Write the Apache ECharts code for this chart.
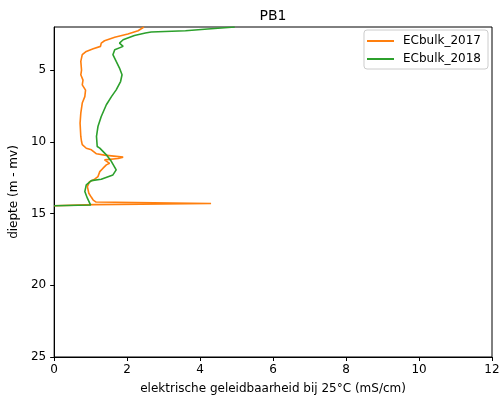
<!DOCTYPE html>
<html>
<head>
<meta charset="utf-8">
<script src="https://cdn.jsdelivr.net/npm/echarts@6/dist/echarts.min.js"></script>
<style>
html, body { margin: 0; padding: 0; background: #fff; }
#chart { width: 503px; height: 403px; }
</style>
</head>
<body>
<div id="chart"></div>
<script>
// diepte (m - mv) en EC (mS/cm)
const depth2017 = [2.0, 2.07, 2.26, 2.49, 2.72, 2.96, 3.12, 3.35, 3.51, 3.7, 3.93, 4.4, 5.0, 5.33, 5.7, 6.03, 6.4, 6.85, 7.3, 8.0, 8.7, 9.63, 9.98, 10.2, 10.45, 10.56, 10.84, 10.93, 11.07, 11.17, 11.26, 11.38, 11.5, 11.61, 11.84, 12.08, 12.43, 12.61, 12.78, 13.13, 13.59, 13.87, 14.06, 14.2, 14.3, 14.38, 14.46]
const ec2017 = [2.46, 2.43, 2.3, 2.02, 1.66, 1.38, 1.29, 1.27, 1.07, 0.88, 0.77, 0.73, 0.75, 0.73, 0.79, 0.77, 0.86, 0.84, 0.77, 0.73, 0.71, 0.73, 0.75, 0.77, 0.88, 1.02, 1.16, 1.38, 1.89, 1.75, 1.38, 1.34, 1.52, 1.43, 1.34, 1.25, 1.2, 1.11, 0.97, 0.91, 0.95, 1.02, 1.07, 1.15, 4.3, 1.1, 0]

const depth2018 = [2.0, 2.14, 2.26, 2.35, 2.42, 2.59, 2.89, 3.12, 3.35, 3.58, 3.93, 4.4, 4.86, 5.33, 5.8, 6.38, 6.85, 7.42, 8.24, 8.94, 9.63, 10.33, 10.44, 10.91, 11.38, 11.96, 12.31, 12.61, 12.71, 13.0, 13.47, 13.93, 14.41, 14.46]
const ec2018 = [4.95, 4.21, 3.6, 2.66, 2.5, 2.2, 1.89, 1.79, 1.89, 1.66, 1.61, 1.7, 1.79, 1.86, 1.82, 1.7, 1.57, 1.43, 1.29, 1.2, 1.16, 1.18, 1.25, 1.43, 1.57, 1.7, 1.61, 1.29, 1.02, 0.88, 0.84, 0.91, 1.0, 0]

const seriesNames = ['ECbulk_2017', 'ECbulk_2018']
const depthTicks = [5, 10, 15, 20, 25]

const toPairs = (xs, ys) => xs.map((v, i) => [v, ys[i]])

const font = 'DejaVu Sans'
const myChart = echarts.init(document.getElementById('chart'))

const option = {
  backgroundColor: '#fff',
  animation: false,
  textStyle: { fontFamily: font },
  title: {
    text: 'PB1',
    left: 268,
    top: 4,
    textAlign: 'center',
    textStyle: { fontFamily: font, fontSize: 14, fontWeight: 'normal', color: '#000' }
  },
  legend: {
    data: seriesNames,
    orient: 'vertical',
    right: 15,
    top: 30,
    icon: 'rect',
    itemWidth: 27,
    itemHeight: 2,
    itemGap: 6,
    padding: [5, 7, 4, 3],
    borderColor: '#cccccc',
    borderWidth: 1,
    borderRadius: 3,
    backgroundColor: '#fff',
    textStyle: { fontFamily: font, fontSize: 12, color: '#000', padding: [0, 0, 0, 4] }
  },
  grid: {
    left: 53,
    right: 11,
    top: 27,
    bottom: 46,
    show: true,
    borderColor: '#000',
    borderWidth: 1
  },
  xAxis: {
    type: 'value',
    min: 0,
    max: 12,
    interval: 2,
    name: 'elektrische geleidbaarheid bij 25°C (mS/cm)',
    nameLocation: 'middle',
    nameGap: 26,
    nameTextStyle: { fontFamily: font, fontSize: 12, color: '#000' },
    splitLine: { show: false },
    axisLine: { show: true, lineStyle: { color: '#000', width: 1 } },
    axisTick: { show: true, inside: false, length: 4, lineStyle: { color: '#000' } },
    axisLabel: { color: '#000', fontSize: 12, fontFamily: font, margin: 7 }
  },
  yAxis: {
    type: 'value',
    inverse: true,
    min: 2,
    max: 25,
    name: 'diepte (m - mv)',
    nameLocation: 'middle',
    nameGap: 27,
    nameTextStyle: { fontFamily: font, fontSize: 12, color: '#000' },
    splitLine: { show: false },
    axisLine: { show: true, lineStyle: { color: '#000', width: 1 } },
    axisTick: { show: true, inside: false, length: 4, customValues: depthTicks, lineStyle: { color: '#000' } },
    axisLabel: { color: '#000', fontSize: 12, fontFamily: font, margin: 8, customValues: depthTicks }
  },
  series: [
    {
      name: seriesNames[0],
      type: 'line',
      symbol: 'none',
      color: '#ff7f0e',
      lineStyle: { width: 1.6 },
      data: toPairs(ec2017, depth2017)
    },
    {
      name: seriesNames[1],
      type: 'line',
      symbol: 'none',
      color: '#2ca02c',
      lineStyle: { width: 1.6 },
      data: toPairs(ec2018, depth2018)
    }
  ]
}

myChart.setOption(option)
</script>
</body>
</html>
